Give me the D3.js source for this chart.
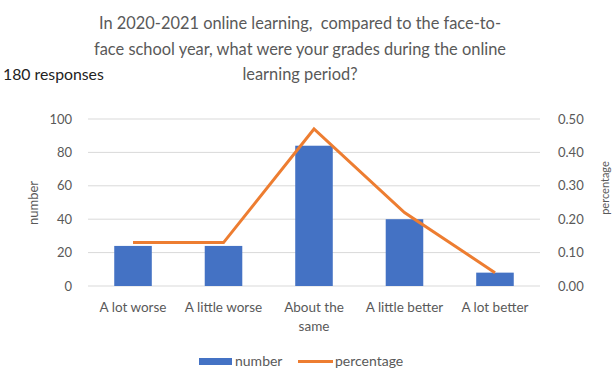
<!DOCTYPE html>
<html>
<head>
<meta charset="utf-8">
<script src="https://cdn.jsdelivr.net/npm/d3@7"></script>
<style>
  body { margin: 0; background: #fff; }
  text { font-family: Lato, "Open Sans", sans-serif; }
</style>
</head>
<body>
<div id="chart"></div>
<script>
// data
var categories = ["A lot worse", "A little worse", "About the same", "A little better", "A lot better"];
var numbers = [24, 24, 84, 40, 8];
var percentages = [0.13, 0.13, 0.47, 0.22, 0.04];
var leftTicks = [0, 20, 40, 60, 80, 100];
var rightTicks = [0, 0.1, 0.2, 0.3, 0.4, 0.5];
var titleLines = ["In 2020-2021 online learning,  compared to the face-to-",
    "face school year, what were your grades during the online",
    "learning period?"];

var width = 612, height = 368;
var margin = {left: 88, right: 72, top: 119, bottom: 82};

var svg = d3.select("#chart").append("svg")
    .attr("width", width)
    .attr("height", height);

var x = d3.scaleBand()
    .domain(categories)
    .range([margin.left, width - margin.right])
    .paddingInner(0.585)
    .paddingOuter(0.29);

var yLeft = d3.scaleLinear().domain([0, 100]).range([height - margin.bottom, margin.top]);
var yRight = d3.scaleLinear().domain([0, 0.5]).range([height - margin.bottom, margin.top]);

// title
svg.append("g").selectAll("text")
    .data(titleLines)
    .enter().append("text")
    .attr("x", 300)
    .attr("y", function (d, i) { return 29 + i * 25.5; })
    .attr("text-anchor", "middle")
    .attr("fill", "#595959")
    .style("font-size", "16.4px")
    .style("white-space", "pre")
    .text(function (d) { return d; });

svg.append("text")
    .attr("x", 3)
    .attr("y", 80)
    .attr("fill", "#222")
    .style("font-size", "15.8px")
    .text("180 responses");

// gridlines
svg.append("g").selectAll("line")
    .data(leftTicks)
    .enter().append("line")
    .attr("x1", margin.left)
    .attr("x2", width - margin.right)
    .attr("y1", function (d) { return yLeft(d); })
    .attr("y2", function (d) { return yLeft(d); })
    .attr("stroke", "#d9d9d9")
    .attr("stroke-width", 1);

// left axis
var leftAxis = svg.append("g")
    .attr("transform", "translate(72,0)")
    .call(d3.axisLeft(yLeft).tickValues(leftTicks).tickSize(0).tickPadding(0));
leftAxis.select(".domain").remove();
leftAxis.selectAll("text").attr("fill", "#595959").style("font-size", "13px");

// right axis
var rightAxis = svg.append("g")
    .attr("transform", "translate(558,0)")
    .call(d3.axisRight(yRight).tickValues(rightTicks).tickSize(0).tickPadding(0).tickFormat(d3.format(".2f")));
rightAxis.select(".domain").remove();
rightAxis.selectAll("text").attr("fill", "#595959").style("font-size", "13px");

// axis titles
svg.append("text")
    .attr("transform", "translate(38,203) rotate(-90)")
    .attr("text-anchor", "middle")
    .attr("fill", "#595959")
    .style("font-size", "13px")
    .text("number");

svg.append("text")
    .attr("transform", "translate(609,188) rotate(-90)")
    .attr("text-anchor", "middle")
    .attr("fill", "#595959")
    .style("font-size", "11px")
    .text("percentage");

// bars
svg.append("g").selectAll("rect")
    .data(numbers)
    .enter().append("rect")
    .attr("x", function (d, i) { return x(categories[i]); })
    .attr("y", function (d) { return yLeft(d); })
    .attr("width", x.bandwidth())
    .attr("height", function (d) { return yLeft(0) - yLeft(d); })
    .attr("fill", "#4472c4");

// line
var line = d3.line()
    .x(function (d, i) { return x(categories[i]) + x.bandwidth() / 2; })
    .y(function (d) { return yRight(d); });

svg.append("path")
    .datum(percentages)
    .attr("d", line)
    .attr("fill", "none")
    .attr("stroke", "#ed7d31")
    .attr("stroke-width", 3)
    .attr("stroke-linejoin", "miter");

// category labels
var xLabels = svg.append("g").selectAll("text")
    .data(categories)
    .enter().append("text")
    .attr("x", function (d) { return x(d) + x.bandwidth() / 2; })
    .attr("y", 312)
    .attr("text-anchor", "middle")
    .attr("fill", "#595959")
    .style("font-size", "13.5px");

xLabels.each(function (d) {
    var t = d3.select(this);
    if (d === "About the same") {
        t.append("tspan").attr("x", t.attr("x")).text("About the");
        t.append("tspan").attr("x", t.attr("x")).attr("dy", 19).text("same");
    } else {
        t.text(d);
    }
});

// legend
var legend = svg.append("g");
legend.append("rect")
    .attr("x", 199).attr("y", 358)
    .attr("width", 33).attr("height", 7)
    .attr("fill", "#4472c4");
legend.append("text")
    .attr("x", 235).attr("y", 366)
    .attr("fill", "#595959")
    .style("font-size", "14px")
    .text("number");
legend.append("line")
    .attr("x1", 298).attr("x2", 333)
    .attr("y1", 361.5).attr("y2", 361.5)
    .attr("stroke", "#ed7d31")
    .attr("stroke-width", 3);
legend.append("text")
    .attr("x", 335).attr("y", 366)
    .attr("fill", "#595959")
    .style("font-size", "14px")
    .text("percentage");
</script>
</body>
</html>
